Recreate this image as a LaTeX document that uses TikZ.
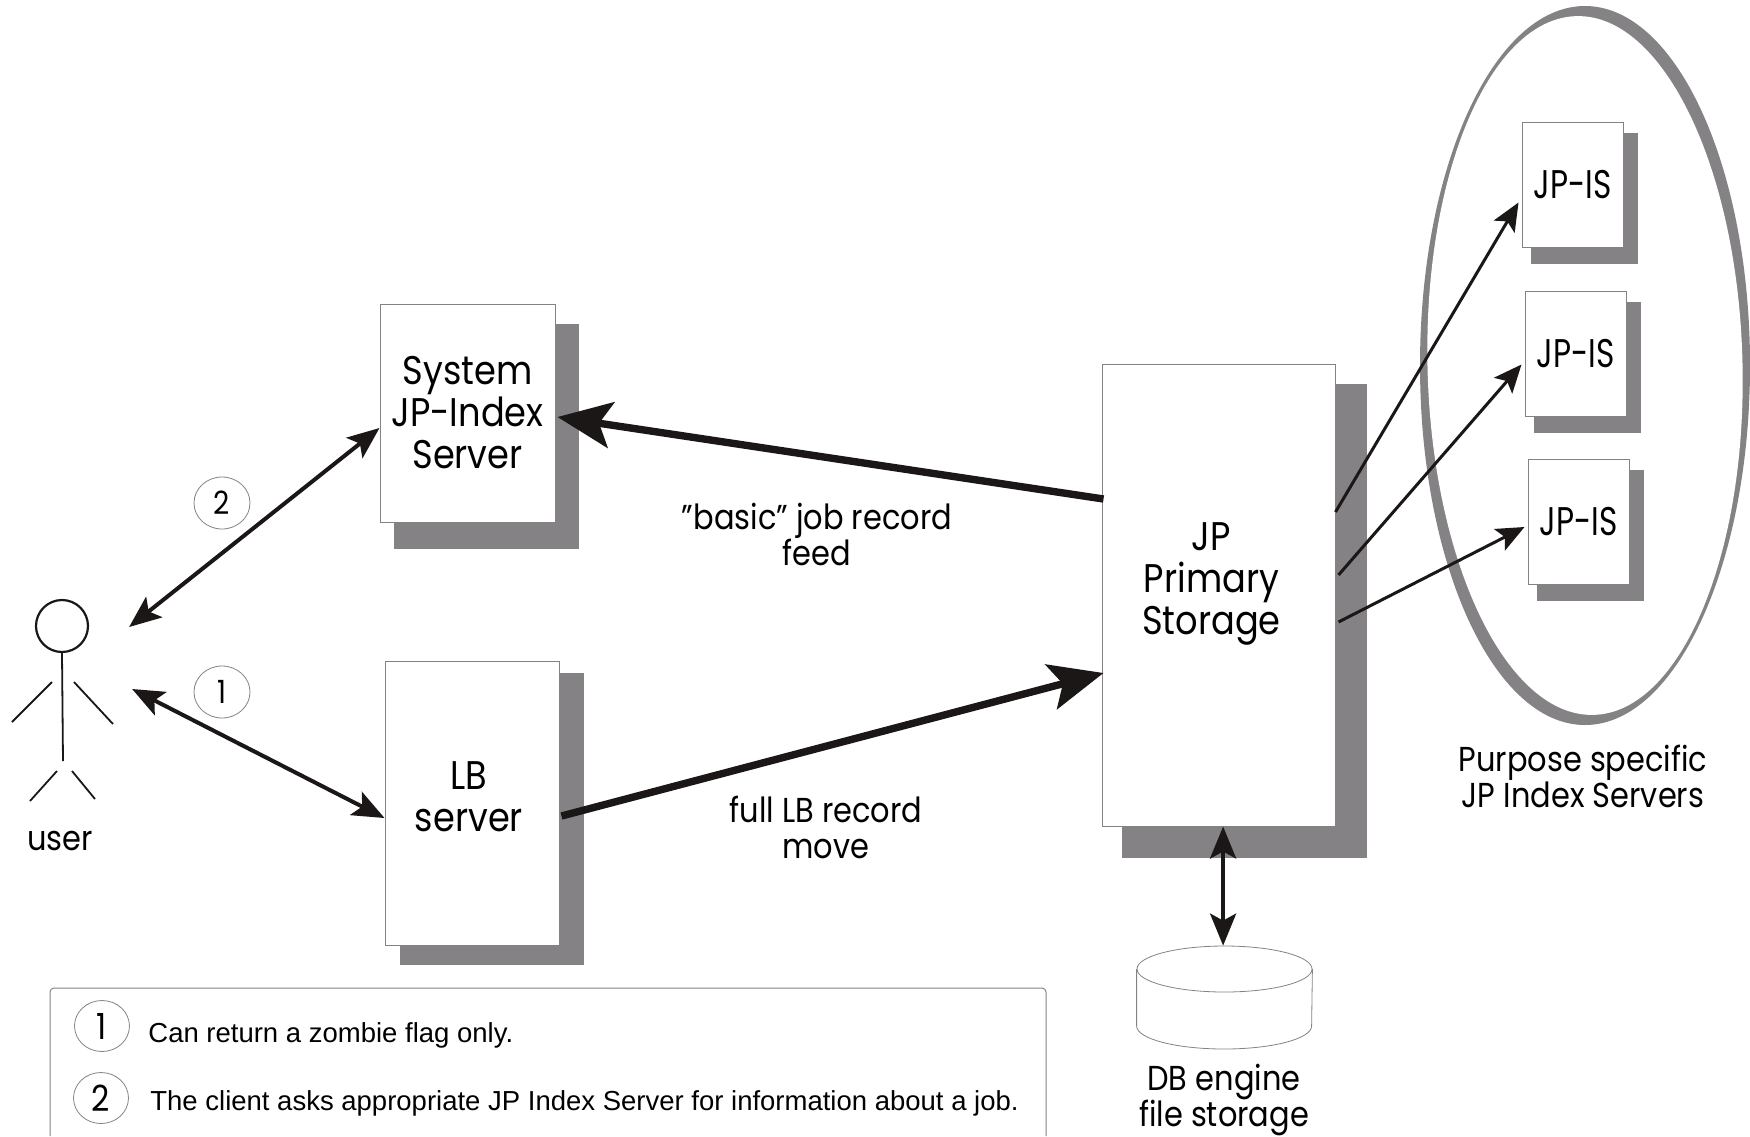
\documentclass[tikz,border=0pt]{standalone}
\usepackage{fontspec}
\setmainfont[FakeStretch=0.88]{Poppins}
\newfontfamily\notefont{Liberation Sans}
\newfontfamily\isfont[FakeStretch=0.78]{Poppins}
\usetikzlibrary{shapes.geometric, arrows.meta, calc, backgrounds}
\definecolor{shadowgray}{HTML}{848284}
\definecolor{ink}{HTML}{1A1716}

\begin{document}
\begin{tikzpicture}[
  x=0.5pt, y=-0.5pt,
  font=\fontsize{20}{21}\selectfont,
  box/.style    ={draw=shadowgray, line width=0.5pt, fill=white, align=center, inner sep=0pt},
  isbox/.style  ={box, minimum width=50.5pt, minimum height=62.5pt, font=\isfont\fontsize{20}{21}\selectfont},
  lbl/.style    ={align=center, font=\fontsize{17.3}{18}\selectfont, inner sep=0pt},
  boxlbl/.style ={align=center, inner sep=0pt},
  nummark/.style={ellipse, draw=shadowgray, line width=0.4pt, fill=white, inner sep=0pt, minimum width=28pt, minimum height=26pt, font=\fontsize{16}{16}\selectfont},
  stick/.style  ={draw=ink, line width=0.9pt},
  fat/.style    ={draw=ink, line width=3.7pt, -{Stealth[length=27pt, width=23pt, inset=6pt]}},
  thin/.style   ={draw=ink, line width=1.5pt, -{Stealth[length=14pt, width=12pt, inset=3pt]}},
  both/.style   ={draw=ink, line width=2pt, {Stealth[length=16pt, width=13pt, inset=3.5pt]}-{Stealth[length=16pt, width=13pt, inset=3.5pt]}},
]
\useasboundingbox (0,0) rectangle (1750,1136);

% ---------- servers ----------
\node[box, minimum width=87.5pt, minimum height=109pt] (sys) at (467.5,413) {System\\JP-Index\\Server};
\node[box, minimum width=87pt, minimum height=142pt, label={[boxlbl, xshift=-1.5pt, yshift=3pt]center:LB\\server}] (lb) at (472,803) {};
\node[box, minimum width=116.5pt, minimum height=231pt, label={[boxlbl, xshift=-3.5pt, yshift=5.7pt]center:JP\\Primary\\Storage}] (jp) at (1218.5,595) {};
\node[isbox] (is1) at (1572.5,184.5) {JP-IS};
\node[isbox] (is2) at (1575.5,353.5) {JP-IS};
\node[isbox] (is3) at (1578.5,522) {JP-IS};

% group ellipse and shadows go behind the boxes
\begin{scope}[on background layer]
  \node[ellipse, fill=shadowgray, inner sep=0pt, minimum width=165pt, minimum height=359.5pt] (groupout) at (1585,365.5) {};
  \node[ellipse, fill=white, inner sep=0pt, minimum width=157.5pt, minimum height=349.5pt, rotate=1.4] (groupin) at (1585,365.5) {};
  \foreach \b/\l/\t/\r/\d in {sys/14/20/23/26, lb/15/12/24/19, jp/20/20/31/31, is1/9/11/14/16, is2/9/11/14/16, is3/9/11/14/16}
    \fill[shadowgray] ($(\b.north west)+(\l,\t)$) rectangle ($(\b.south east)+(\r,\d)$);
\end{scope}

% ---------- user ----------
\node[circle, draw=ink, line width=1.1pt, fill=white, inner sep=0pt, minimum size=26pt] (head) at (62,626) {};
\coordinate (hip) at (63,761);
\draw[stick] (head.south) -- (hip);
\draw[stick] (52,682) -- (12,722);
\draw[stick] (74,682) -- (113,724);
\draw[stick] (57,771) -- (30,801);
\draw[stick] (72,771) -- (95,799);
\node[lbl] (usr) at (60,841) {user};

% ---------- database ----------
\node[ellipse, draw=shadowgray, line width=0.4pt, inner sep=0pt, minimum width=87.5pt, minimum height=23pt] (db) at (1224.5,969) {};
\draw[draw=shadowgray, line width=0.4pt] (db.west) -- ++(0,57) arc[start angle=180, end angle=0, x radius=87.5, y radius=23] -- (db.east);
\node[lbl] (dbtext) at (1224,1100) {DB engine\\file storage};

% ---------- connectors ----------
\draw[both] ($(head.east)+(40,1)$) -- ($(sys.west)+(0,15)$);
\draw[both] ($(head.east)+(43,63)$) -- ($(lb.west)+(0,15)$);
\draw[fat] ($(jp.west)+(2,-96)$) -- ($(sys.east)+(2,4)$);
\draw[fat] ($(lb.east)+(2,13)$) -- ($(jp.west)+(2,78)$);
\draw[thin] ($(jp.east)+(0,-83)$) -- ($(is1.west)+(-3,18)$);
\draw[thin] ($(jp.east)+(3,-20)$) -- ($(is2.west)+(-3,11)$);
\draw[thin] ($(jp.east)+(3,27)$) -- ($(is3.west)+(-3,5)$);
\draw[both] ([xshift=-0.7pt]db.north |- jp.south) -- ([xshift=-0.7pt]db.north);

% ---------- labels ----------
\node[lbl] (feed) at (817,534) {"basic" job record\\feed};
\node[lbl] (move) at (826,827) {full LB record\\move};
\node[lbl] (grouptext) at (1583,776) {Purpose specific\\JP Index Servers};
\node[nummark] (mark2) at (222,503) {2};
\node[nummark] (mark1) at (222,692) {1};

% ---------- legend, runs off the page at the bottom ----------
\coordinate (legl) at (50,1136);
\coordinate (legr) at (1046,1136);
\draw[draw=shadowgray, line width=0.5pt, rounded corners=2pt] (legl) |- (548,988) -| (legr);
\node[nummark, font=\fontsize{18}{18}\selectfont, minimum width=27.5pt, minimum height=25.5pt] (note1) at (102,1026) {1};
\node[nummark, font=\fontsize{18}{18}\selectfont, minimum width=27.5pt, minimum height=25.5pt] (note2) at (101,1098) {2};
\node[anchor=base west, inner sep=0pt, font=\notefont\fontsize{13.75}{14}\selectfont] (text1) at (148,1042) {Can return a zombie flag only.};
\node[anchor=base west, inner sep=0pt, font=\notefont\fontsize{13.75}{14}\selectfont] (text2) at (150,1110) {The client asks appropriate JP Index Server for information about a job.};
\end{tikzpicture}
\end{document}
